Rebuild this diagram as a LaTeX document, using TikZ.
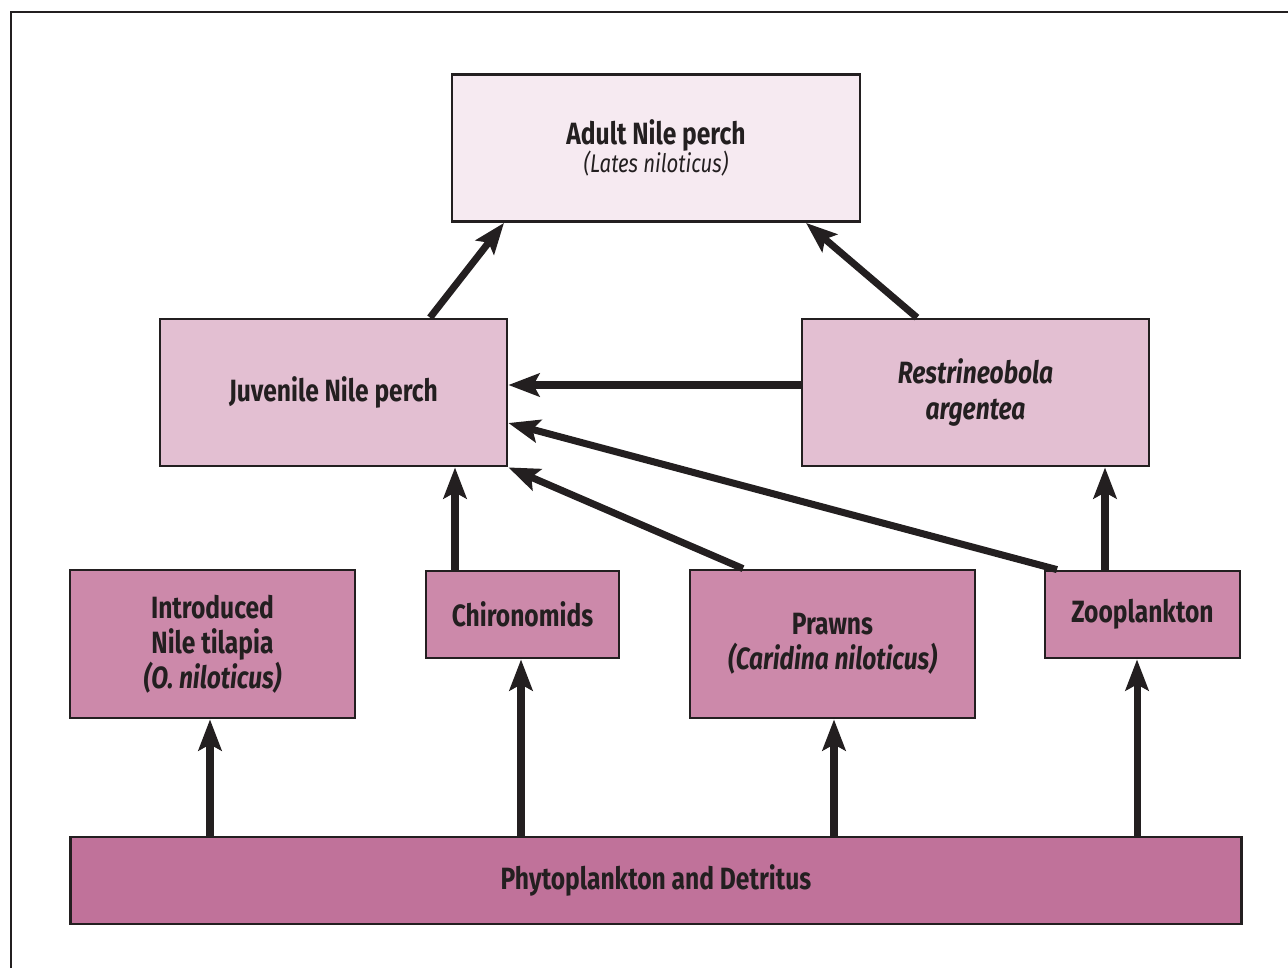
\documentclass[tikz,border=0pt]{standalone}
\usepackage{fontspec}
\setmainfont{Fira Sans}[FakeStretch=0.8]
\usetikzlibrary{arrows.meta}

\definecolor{adultpink}{HTML}{F6EAF1}
\definecolor{midpink}{HTML}{E3BFD2}
\definecolor{preypink}{HTML}{CC89AA}
\definecolor{basepink}{HTML}{C0729A}
\definecolor{inkgrey}{HTML}{231F20}

\tikzset{
	box/.style={draw=inkgrey, line width=1.6pt, inner sep=0pt, align=center, text=inkgrey,
		font=\fontsize{17.5}{20}\selectfont\bfseries},
	feed/.style={draw=inkgrey, line width=4pt, -{Stealth[length=0.62cm,width=0.46cm,inset=0.12cm]}}
}

\begin{document}
\begin{tikzpicture}[x=0.02cm,y=-0.02cm]
				\useasboundingbox (0,0) rectangle (1288,968);
				\draw[inkgrey, line width=1.6pt] (11,968) -- (11,12) -- (1288,12);
				% predators
				\node[box, fill=adultpink, minimum width=8.16cm, minimum height=2.94cm] (adult) at (656,148)
					{Adult Nile perch\\[-4pt]{\fontsize{14.5}{16}\selectfont\mdseries\itshape (Lates niloticus)}};
				\node[box, fill=midpink, minimum width=6.94cm, minimum height=2.94cm] (juv) at (333.5,392.5) {Juvenile Nile perch};
				\node[box, fill=midpink, minimum width=6.94cm, minimum height=2.94cm] (rest) at (975.5,392.5)
					{\itshape Restrineobola\\\itshape argentea};
				% prey
				\node[box, fill=preypink, minimum width=5.7cm, minimum height=2.96cm] (tilapia) at (212.5,644)
					{Introduced\\Nile tilapia\\\itshape (O. niloticus)};
				\node[box, fill=preypink, minimum width=3.86cm, minimum height=1.74cm] (chiro) at (522.5,614.5) {Chironomids};
				\node[box, fill=preypink, minimum width=5.7cm, minimum height=2.96cm] (prawn) at (832.5,644)
					{Prawns\\\itshape (Caridina niloticus)};
				\node[box, fill=preypink, minimum width=3.9cm, minimum height=1.74cm] (zoo) at (1142.5,614.5) {Zooplankton};
				\node[box, fill=basepink, minimum width=23.44cm, minimum height=1.74cm] (phyto) at (656,880.5) {Phytoplankton and Detritus};
				% who eats whom
				\draw[feed] (juv.north -| 430,0) -- (adult.south -| 504,0);
				\draw[feed] (rest.north -| 917,0) -- (adult.south -| 806,0);
				\draw[feed] (rest.west |- 0,385) -- (juv.east |- 0,385);
				\draw[feed] (zoo.north -| 1057,0) -- (juv.east |- 0,423);
				\draw[feed] (prawn.north -| 743,0) -- (juv.south east);
				\draw[feed] (chiro.north -| 455,0) -- (juv.south -| 455,0);
				\draw[feed] (zoo.north -| 1105,0) -- (rest.south -| 1105,0);
				\foreach \prey/\xpos in {tilapia/210, chiro/521, prawn/834, zoo/1137}
					\draw[feed] (phyto.north -| \xpos,0) -- (\prey.south -| \xpos,0);
			\end{tikzpicture}
\end{document}
